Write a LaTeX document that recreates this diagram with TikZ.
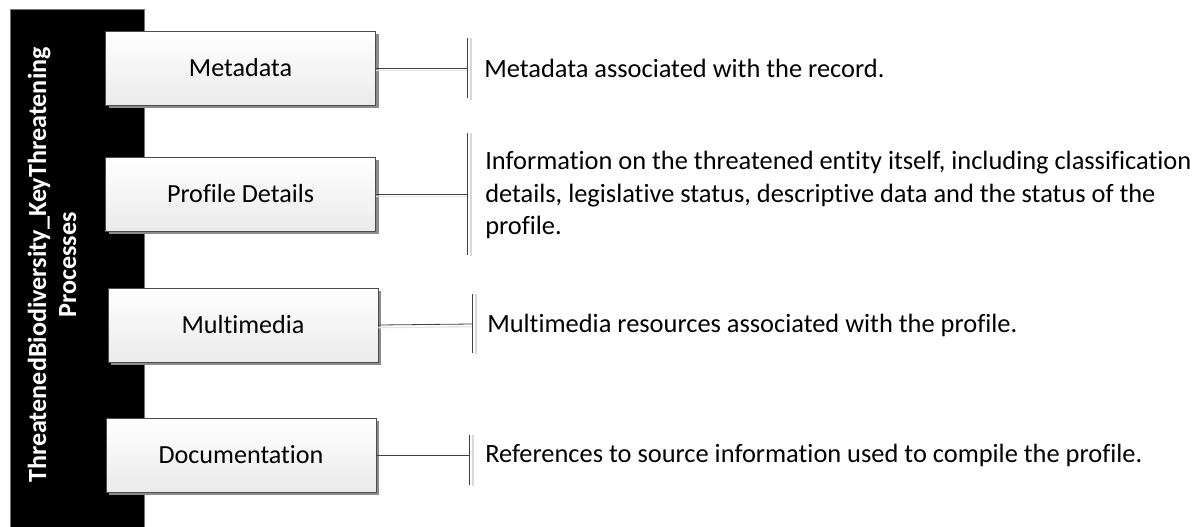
\documentclass[tikz,border=0pt]{standalone}
\usepackage{fontspec}
\setmainfont{Carlito}[Ligatures=NoCommon]
\usetikzlibrary{shadows}
\begin{document}
\begin{tikzpicture}[x=0.75pt,y=-0.75pt,
  box/.style={draw=black!70, line width=0.6pt, top color=white, bottom color=black!8,
    minimum width=202.5pt, minimum height=55.5pt, inner sep=0pt,
    font=\fontsize{19.6}{23}\selectfont,
    drop shadow={shadow xshift=2.4pt, shadow yshift=-2.4pt, fill=black!45, opacity=1}},
  desc/.style={anchor=west, align=left, inner sep=0pt, text=black,
    font=\fontsize{19.8}{24.4}\selectfont},
  conn/.style={draw=black!75, line width=0.6pt},
  connsh/.style={draw=black!10, line width=1pt},
  brack/.style={draw=black!75, line width=0.6pt},
  bracksh/.style={draw=black!15, line width=0.8pt}]
\useasboundingbox (0,0) rectangle (1200,526);
% container bar
\node[draw=black!55, fill=black, line width=0.6pt, minimum width=100.5pt, minimum height=390pt, inner sep=0pt, anchor=north west] (bar) at (10,9) {};
\node[rotate=90, text=white, align=center, inner sep=0pt,
  font=\bfseries\fontsize{19.6}{22.5}\selectfont] (title) at (52,265)
  {ThreatenedBiodiversity\_KeyThreatening\\Processes};
% boxes
\node[box] (meta) at (240.5,68) {Metadata};
\node[box] (prof) at (240.5,194) {Profile Details};
\node[box] (mult) at (243,325) {Multimedia};
\node[box] (docu) at (241,455) {Documentation};
% bracket points
\coordinate (bm) at (467,68);
\coordinate (bp) at (467,194);
\coordinate (bu) at (472,324);
\coordinate (bd) at (469,455);
% connector shadows
\draw[connsh] ([yshift=-2pt]meta.east) -- ([yshift=-2pt]bm);
\draw[connsh] ([yshift=-2pt]prof.east) -- ([yshift=-2pt]bp);
\draw[connsh] ([yshift=-2pt]mult.east) -- ([yshift=-2pt]bu);
\draw[bracksh] ([xshift=3pt]bm) ++(0,-30) -- ++(0,62);
\draw[bracksh] ([xshift=3pt]bp) ++(0,-61) -- ++(0,123);
\draw[bracksh] ([xshift=3pt]bu) ++(0,-30) -- ++(0,60);
\draw[bracksh] ([xshift=3pt]bd) ++(0,-20) -- ++(0,51);
% connectors
\draw[conn] (meta.east) -- (bm);
\draw[conn] (prof.east) -- (bp);
\draw[conn] (mult.east) -- (bu);
\draw[conn] (docu.east) -- (bd);
% brackets
\draw[brack] (bm) ++(0,-30) -- ++(0,60);
\draw[brack] (bp) ++(0,-61) -- ++(0,122);
\draw[brack] (bu) ++(0,-30) -- ++(0,59);
\draw[brack] (bd) ++(0,-20) -- ++(0,50);
% descriptions
\node[desc] (dm) at (484,68) {Metadata associated with the record.};
\node[desc] (dp) at (485,195) {Information on the threatened entity itself, including classification\\details, legislative status, descriptive data and the status of the\\profile.};
\node[desc] (du) at (487,325) {Multimedia resources associated with the profile.};
\node[desc] (dd) at (485,455) {References to source information used to compile the profile.};
\end{tikzpicture}
\end{document}
